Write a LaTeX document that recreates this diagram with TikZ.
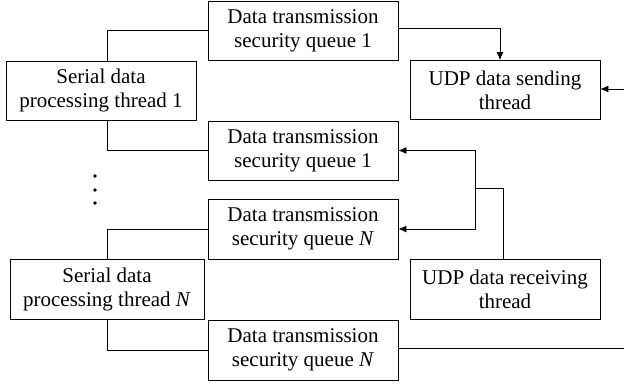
\documentclass[tikz,border=0pt]{standalone}
\usepackage{fontspec}
\setmainfont{Liberation Serif}
\usetikzlibrary{arrows.meta,calc}
\tikzset{
  boxnode/.style={draw, line width=0.8pt, minimum width=190pt, minimum height=59pt, align=center, inner sep=0pt, font=\fontsize{21}{24}\selectfont},
  conn/.style={line width=0.8pt},
  arr/.style={line width=0.8pt, -{Latex[length=8pt,width=7pt]}}
}
\begin{document}
\begin{tikzpicture}[x=1pt,y=-1pt]
\useasboundingbox (0,0) rectangle (624,383);
\node[boxnode] (q1) at (303,30.5) {Data transmission\\security queue 1};
\node[boxnode] (s1) at (101,90.5) {Serial data\\processing thread 1};
\node[boxnode] (udps) at (505,90) {UDP data sending\\thread};
\node[boxnode] (q1b) at (303,150.5) {Data transmission\\security queue 1};
\node[boxnode, minimum height=60pt] (qNa) at (303,229) {Data transmission\\security queue \textit{N}};
\node[boxnode, minimum width=194pt, minimum height=60pt] (sN) at (107,289) {Serial data\\processing thread \textit{N}};
\node[boxnode, minimum height=60pt] (udpr) at (505,289) {UDP data receiving\\thread};
\node[boxnode, minimum height=60pt] (qNb) at (303,350) {Data transmission\\security queue \textit{N}};
\coordinate (inS) at (624,89);
\coordinate (outN) at (624,348);
\coordinate (j) at (475,188);
\coordinate (t1) at (500,28);
\draw[conn] (sN.north |- s1.north) |- (q1.west);
\draw[conn] (sN.north |- s1.south) |- (q1b.west);
\draw[conn] (sN.north) |- (qNa.west);
\draw[conn] (sN.south) |- (qNb.west);
\draw[arr] (q1.east |- t1) -| (t1 |- udps.north);
\draw[arr] (inS) -- (udps.east |- inS);
\draw[conn] ([xshift=-2pt]udpr.north) |- (j);
\draw[arr] (j) |- (q1b.east);
\draw[arr] (j) |- (qNa.east);
\draw[conn] (qNb.east |- outN) -- (outN);
\fill (95,176) circle (1.8pt) (95,190) circle (1.8pt) (95,203) circle (1.8pt);
\end{tikzpicture}
\end{document}
